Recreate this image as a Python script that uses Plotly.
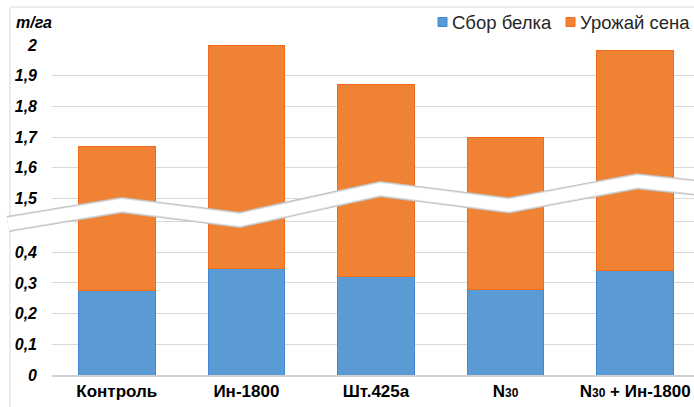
import plotly.graph_objects as go

# ---- data ----
categories = ["Контроль", "Ин-1800", "Шт.425а",
              "N<span style='font-size:12px'>30</span>",
              "N<span style='font-size:12px'>30</span> + Ин-1800"]
protein = [0.274, 0.347, 0.321, 0.278, 0.341]      # Сбор белка, т/га
hay_total = [1.671, 2.000, 1.870, 1.698, 1.982]     # Урожай сена (верх столбца), т/га
lower_ticks = [0, 0.1, 0.2, 0.3, 0.4, 0.5]
upper_ticks = [1.5, 1.6, 1.7, 1.8, 1.9, 2.0]
series_names = ["Сбор белка", "Урожай сена"]
series_colors = ["#5b9bd5", "#f08234"]
series_edges = ["#3f87d4", "#f26a1d"]

# broken axis: values above the break are shifted down by OFFSET
BREAK_LOW = 0.5
BREAK_GAP = 0.075
OFFSET = upper_ticks[0] - (BREAK_LOW + BREAK_GAP)

def fmt(v):
    s = f"{v:.1f}".replace(".", ",")
    return "0" if v == 0 else ("2" if v == 2 else s)

tickvals = lower_ticks[:-1] + [v - OFFSET for v in upper_ticks]
ticktext = [fmt(v) for v in lower_ticks[:-1]] + [fmt(v) for v in upper_ticks]

hay_part = [(t - OFFSET) - p for t, p in zip(hay_total, protein)]

W, H = 694, 407
ML, MR, MT, MB = 52, 0, 45, 32
PW, PH = W - ML - MR, H - MT - MB

def px(x):
    return (x - ML) / PW

def py(y):
    return (H - MB - y) / PH

FONT = "Liberation Sans, Arial, sans-serif"

fig = go.Figure()
for vals, name, col, edge in zip([protein, hay_part], series_names, series_colors, series_edges):
    fig.add_trace(go.Bar(
        x=categories, y=vals, name=name,
        marker=dict(color=col, line=dict(color=edge, width=1)),
        cliponaxis=False, showlegend=False,
    ))

# 0,5 gridline (label hidden under the break band)
fig.add_shape(type="line", xref="paper", yref="y", x0=0, x1=1, y0=BREAK_LOW, y1=BREAK_LOW,
              line=dict(color="#d9d9d9", width=1.2), layer="below")

# break band (zigzag)
band = [(8, 224), (121.7, 205), (239.5, 220), (380.5, 189), (509, 205.5), (637, 181.3), (700, 188.1)]
path = "M " + " L ".join(f"{px(x):.5f},{py(y):.5f}" for x, y in band)
for w, c in [(16, "#c0c0c0"), (14, "#e2e2e2"), (12, "#ffffff")]:
    fig.add_shape(type="path", path=path, xref="paper", yref="paper",
                  line=dict(color=c, width=w), fillcolor="rgba(0,0,0,0)", layer="above")

# chart border
fig.add_shape(type="rect", xref="paper", yref="paper",
              x0=px(10), x1=px(720), y0=py(7), y1=py(430),
              line=dict(color="#d9d9d9", width=1), layer="below")

# legend (custom, top right)
legend_x = [438, 566]
for lx, name, col, edge in zip(legend_x, series_names, series_colors, series_edges):
    fig.add_shape(type="rect", xref="paper", yref="paper",
                  x0=px(lx), x1=px(lx + 9), y0=py(26.5), y1=py(17.5),
                  fillcolor=col, line=dict(color=edge, width=1), layer="above")
    fig.add_annotation(text=name, xref="paper", yref="paper",
                       x=px(lx + 12), y=py(22), xanchor="left", yanchor="middle",
                       showarrow=False, font=dict(family=FONT, size=18.5, color="#262626"))

fig.add_annotation(text="<b><i>т/га</i></b>", xref="paper", yref="paper",
                   x=px(14), y=py(22), xanchor="left", yanchor="middle",
                   showarrow=False, font=dict(family=FONT, size=16, color="#000000"))

fig.update_layout(
    width=W, height=H,
    margin=dict(l=ML, r=MR, t=MT, b=MB, autoexpand=False),
    paper_bgcolor="white", plot_bgcolor="white",
    barmode="stack", bargap=0.41,
    showlegend=False,
    xaxis=dict(range=[-0.5, 4.454], showgrid=False, showline=True, linecolor="#d0d0d0",
               linewidth=1.5, ticks="", tickfont=dict(family=FONT, size=17, color="#000000", weight="bold"),
               fixedrange=True),
    yaxis=dict(range=[0, 1.075], tickvals=tickvals, ticktext=ticktext, showgrid=True,
               gridcolor="#d9d9d9", gridwidth=1.2, zeroline=False, showline=False,
               ticklabelstandoff=14,
               tickfont=dict(family=FONT, size=16, color="#000000", weight="bold", style="italic"),
               fixedrange=True),
)

fig.write_html("out.html", config={"displayModeBar": False},
               post_script="document.body.style.margin='0px';document.body.style.overflow='hidden';")
